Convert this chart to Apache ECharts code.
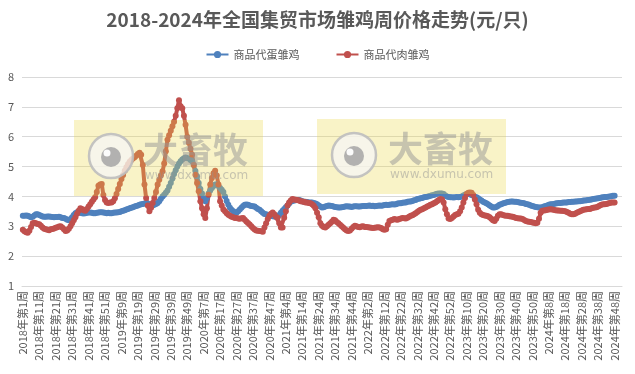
<!DOCTYPE html>
<html><head><meta charset="utf-8">
<script src="https://cdn.jsdelivr.net/npm/echarts@6/dist/echarts.min.js"></script>
<style>html,body{margin:0;padding:0;background:#fff}#c{width:635px;height:374px}</style>
</head><body><div id="c"></div>
<script>
const years = [2018, 2019, 2020, 2021, 2022, 2023, 2024];
const weeksPerYear = [52, 52, 53, 52, 52, 52, 52];
const yTicks = [1, 2, 3, 4, 5, 6, 7, 8];
const seriesNames = ['商品代蛋雏鸡', '商品代肉雏鸡'];

// 商品代蛋雏鸡 (layer chicks), per year
const egg2018 = [3.35,3.35,3.36,3.35,3.33,3.30,3.32,3.36,3.40,3.40,
  3.38,3.35,3.33,3.32,3.32,3.33,3.33,3.32,3.31,3.30,
  3.31,3.31,3.32,3.30,3.28,3.28,3.25,3.22,3.20,3.24,
  3.30,3.38,3.44,3.47,3.46,3.45,3.44,3.43,3.44,3.45,
  3.46,3.46,3.45,3.44,3.44,3.45,3.46,3.47,3.47,3.46,3.45,3.44];
const egg2019 = [3.45,3.44,3.44,3.45,3.46,3.46,3.47,3.48,
  3.50,3.52,3.54,3.56,3.58,3.60,3.62,3.64,3.66,3.68,
  3.70,3.72,3.74,3.75,3.76,3.77,3.76,3.72,3.68,3.70,
  3.72,3.75,3.78,3.84,3.92,4.00,4.06,4.12,4.20,4.32,
  4.45,4.60,4.75,4.88,5.00,5.10,5.18,5.24,5.28,5.30,
  5.29,5.26,5.22,5.18];
const egg2020 = [5.05,4.85,4.68,4.45,4.25,4.10,3.92,3.84,3.95,4.10,
  4.20,4.28,4.35,4.40,4.40,4.35,4.28,4.22,4.15,4.00,
  3.85,3.72,3.62,3.55,3.50,3.46,3.45,3.50,3.56,3.62,
  3.68,3.72,3.73,3.72,3.70,3.68,3.67,3.66,3.62,3.58,
  3.55,3.50,3.45,3.41,3.40,3.38,3.36,3.35,3.34,3.33,3.32,3.34,3.38];
const egg2021 = [3.45,3.52,3.58,3.64,3.70,3.76,3.82,3.85,3.86,3.87,
  3.88,3.88,3.86,3.84,3.82,3.82,3.81,3.80,3.80,3.80,
  3.78,3.76,3.74,3.70,3.66,3.63,3.64,3.66,3.68,3.70,
  3.69,3.68,3.66,3.65,3.64,3.63,3.63,3.64,3.65,3.66,
  3.67,3.66,3.66,3.65,3.66,3.67,3.67,3.66,3.66,3.67,3.68,3.68];
const egg2022 = [3.68,3.69,3.70,3.68,3.69,3.67,3.68,3.69,3.70,3.69,
  3.70,3.71,3.72,3.71,3.72,3.73,3.74,3.73,3.74,3.76,
  3.77,3.77,3.79,3.80,3.80,3.82,3.83,3.83,3.85,3.87,
  3.88,3.91,3.92,3.94,3.95,3.97,3.98,3.99,4.01,4.02,
  4.04,4.05,4.07,4.09,4.10,4.10,4.10,4.08,4.03,4.00,3.98,3.97];
const egg2023 = [3.97,3.96,3.97,3.98,3.97,3.98,4.00,4.03,4.06,4.08,
  4.08,4.07,4.05,4.02,3.99,3.97,3.94,3.90,3.86,3.82,
  3.80,3.77,3.74,3.70,3.66,3.63,3.63,3.65,3.68,3.72,
  3.74,3.76,3.78,3.80,3.81,3.82,3.83,3.83,3.82,3.82,
  3.81,3.80,3.79,3.78,3.77,3.75,3.74,3.72,3.70,3.68,3.66,3.65];
const egg2024 = [3.64,3.63,3.63,3.64,3.66,3.68,3.70,3.72,3.74,3.74,
  3.75,3.76,3.77,3.78,3.78,3.79,3.80,3.80,3.80,3.81,
  3.81,3.82,3.82,3.83,3.83,3.84,3.84,3.85,3.86,3.86,
  3.87,3.88,3.89,3.90,3.91,3.92,3.93,3.94,3.95,3.96,
  3.97,3.98,3.98,3.99,4.00,4.01,4.02,4.02];

// 商品代肉雏鸡 (broiler chicks), per year
const meat2018 = [2.88,2.83,2.80,2.78,2.85,2.98,3.10,3.12,3.10,3.08,
  3.07,3.02,2.96,2.92,2.90,2.88,2.87,2.90,2.91,2.93,
  2.95,2.97,2.99,3.00,2.96,2.90,2.84,2.86,2.92,3.00,
  3.10,3.20,3.30,3.42,3.52,3.60,3.58,3.54,3.52,3.58,
  3.66,3.74,3.82,3.90,3.97,4.15,4.36,4.40,4.42,4.05,3.88,3.80];
const meat2019 = [3.78,3.80,3.80,3.84,3.94,4.08,4.25,4.42,
  4.58,4.72,4.86,4.98,5.08,5.16,5.22,5.27,5.31,5.36,
  5.42,5.46,5.40,5.05,4.40,3.95,3.70,3.50,3.62,3.78,
  3.95,4.15,4.40,4.56,4.70,4.84,5.10,5.51,5.90,6.05,
  6.20,6.35,6.50,6.70,6.95,7.22,7.02,6.95,6.70,6.40,
  6.00,5.80,5.60,5.40];
const meat2020 = [5.05,4.73,4.45,4.17,3.84,3.60,3.40,3.28,3.60,4.06,
  4.40,4.62,4.78,4.86,4.70,4.40,3.84,3.70,3.56,3.50,
  3.44,3.39,3.35,3.32,3.30,3.28,3.28,3.26,3.25,3.27,
  3.28,3.22,3.16,3.11,3.06,3.00,2.94,2.89,2.86,2.85,
  2.84,2.83,2.82,2.96,3.10,3.24,3.35,3.42,3.46,3.40,3.32,3.29,3.10];
const meat2021 = [2.96,2.96,3.29,3.50,3.70,3.80,3.86,3.91,3.90,3.89,
  3.88,3.86,3.84,3.83,3.82,3.80,3.80,3.78,3.77,3.74,
  3.69,3.60,3.45,3.30,3.10,3.02,2.98,2.96,3.00,3.05,
  3.10,3.15,3.22,3.20,3.14,3.10,3.05,3.00,2.95,2.90,
  2.86,2.84,2.86,2.92,2.98,3.02,3.00,2.98,2.97,2.99,3.00,2.98];
const meat2022 = [2.98,2.97,2.96,2.95,2.94,2.95,2.96,2.97,2.96,2.94,
  2.90,2.88,2.90,3.05,3.18,3.20,3.22,3.24,3.23,3.22,
  3.24,3.26,3.28,3.27,3.26,3.29,3.32,3.35,3.37,3.40,
  3.44,3.48,3.52,3.55,3.57,3.60,3.63,3.66,3.69,3.72,
  3.74,3.77,3.80,3.84,3.88,3.91,3.90,3.80,3.57,3.40,3.26,3.24];
const meat2023 = [3.28,3.33,3.38,3.40,3.42,3.50,3.63,3.80,3.95,4.08,
  4.12,4.13,4.12,4.05,3.90,3.74,3.55,3.45,3.40,3.38,
  3.36,3.35,3.34,3.30,3.25,3.20,3.18,3.25,3.35,3.40,
  3.40,3.38,3.36,3.35,3.35,3.34,3.33,3.32,3.30,3.28,
  3.27,3.26,3.26,3.24,3.21,3.18,3.16,3.15,3.14,3.13,3.12,3.10];
const meat2024 = [3.12,3.25,3.45,3.52,3.53,3.54,3.55,3.56,3.57,3.56,
  3.55,3.54,3.53,3.53,3.52,3.52,3.51,3.50,3.48,3.45,
  3.42,3.40,3.40,3.42,3.45,3.48,3.50,3.53,3.55,3.56,
  3.57,3.58,3.58,3.60,3.62,3.63,3.64,3.66,3.70,3.72,
  3.74,3.74,3.75,3.76,3.78,3.80,3.80,3.80];

const categories = [];
years.forEach((y, k) => { for (let w = 1; w <= weeksPerYear[k]; w++) categories.push(y + '年第' + w + '周'); });
const eggData = [].concat(egg2018, egg2019, egg2020, egg2021, egg2022, egg2023, egg2024);
const meatData = [].concat(meat2018, meat2019, meat2020, meat2021, meat2022, meat2023, meat2024);

const FONT = '"Noto Sans CJK SC", "Noto Sans", sans-serif';
const boxFill = 'rgba(236,216,70,0.30)';
const wmGrey = 'rgba(150,150,150,0.5)';
function watermark(bx, by, bw, bh, cx, cy, tx) {
  return [
    { type: 'rect', z: 100, shape: { x: bx, y: by, width: bw, height: bh }, style: { fill: boxFill } },
    { type: 'circle', z: 101, shape: { cx: cx, cy: cy, r: 22 }, style: { fill: 'rgba(245,245,245,0.75)', stroke: 'rgba(190,190,190,0.9)', lineWidth: 2.5 } },
    { type: 'circle', z: 102, shape: { cx: cx, cy: cy + 1, r: 10 }, style: { fill: 'rgba(170,170,170,0.9)' } },
    { type: 'circle', z: 103, shape: { cx: cx - 4, cy: cy - 3, r: 3.5 }, style: { fill: 'rgba(255,255,255,0.95)' } },
    { type: 'text', z: 101, x: tx, y: cy - 6, style: { text: '大畜牧', fill: wmGrey, font: 'bold 35px ' + FONT, textVerticalAlign: 'middle' } },
    { type: 'text', z: 101, x: tx + 2, y: cy + 20, style: { text: 'www.dxumu.com', fill: wmGrey, font: '12px "DejaVu Sans", sans-serif', textVerticalAlign: 'middle' } }
  ];
}

const chart = echarts.init(document.getElementById('c'), null, { renderer: 'canvas' });
chart.setOption({
  animation: false,
  backgroundColor: '#fff',
  title: {
    text: '2018-2024年全国集贸市场雏鸡周价格走势(元/只)',
    left: 'center', top: 5,
    textStyle: { fontFamily: FONT, fontSize: 19, fontWeight: 'bold', color: '#595959' }
  },
  legend: {
    top: 44, left: 'center', itemGap: 36, itemWidth: 22, itemHeight: 9,
    textStyle: { fontFamily: FONT, fontSize: 11, color: '#595959' },
    data: seriesNames
  },
  grid: { left: 22, right: 13, top: 77, bottom: 88, containLabel: false },
  xAxis: {
    type: 'category', data: categories, boundaryGap: true,
    axisLine: { lineStyle: { color: '#D9D9D9' } },
    axisTick: { show: false },
    axisLabel: { interval: 9, rotate: 90, fontFamily: FONT, fontSize: 11, color: '#595959', margin: 5 }
  },
  yAxis: {
    type: 'value', min: yTicks[0], max: yTicks[yTicks.length - 1], interval: 1,
    axisLine: { show: false }, axisTick: { show: false },
    axisLabel: { fontFamily: FONT, fontSize: 11, color: '#595959', margin: 8 },
    splitLine: { lineStyle: { color: '#D9D9D9' } }
  },
  series: [
    { name: seriesNames[0], type: 'line', data: eggData, symbol: 'circle', symbolSize: 6, showAllSymbol: true,
      itemStyle: { color: '#4F81BD' }, lineStyle: { width: 4, color: '#4F81BD' } },
    { name: seriesNames[1], type: 'line', data: meatData, symbol: 'circle', symbolSize: 6, showAllSymbol: true,
      itemStyle: { color: '#C0504D' }, lineStyle: { width: 4, color: '#C0504D' } }
  ],
  graphic: [].concat(
    watermark(74, 120, 189, 76, 111, 156, 143),
    watermark(317, 119, 189, 75, 354, 155, 388)
  )
});
</script></body></html>
